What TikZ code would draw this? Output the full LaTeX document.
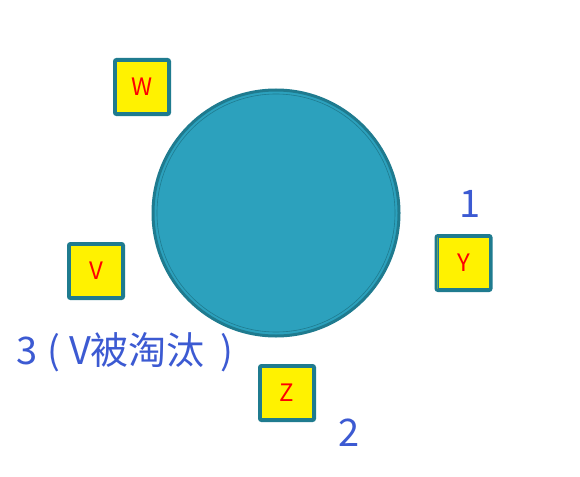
\documentclass[tikz,border=0pt]{standalone}
\usepackage{fontspec}
\newfontfamily\cjk{Noto Sans CJK SC}
\definecolor{ballfill}{RGB}{44,161,189}
\definecolor{ballline}{RGB}{31,123,143}
\definecolor{labelblue}{RGB}{60,90,210}
\tikzset{
  ball/.style={
    circle,
    draw=ballline,
    line width=3pt,
    fill=ballfill,
    minimum size=246pt
  },
  slot/.style={
    rectangle,
    rounded corners=2pt,
    draw=ballline,
    line width=3pt,
    fill=yellow,
    minimum size=55pt,
    text=red,
    font=\cjk\fontsize{24}{26}\selectfont
  },
  rank/.style={
    text=labelblue,
    inner sep=0pt,
    font=\cjk\fontsize{38}{42}\selectfont
  }
}

\begin{document}
\begin{tikzpicture}[x=1pt,y=1pt]
  \useasboundingbox (0,0) rectangle (580,-476);

  % the ball
  \node[ball] (ball) at (276,-213) {};
  \draw[ballline, line width=0.6pt] (ball.center) circle (119pt);

  % the four boxes
  \node[slot] (w) at (142,-87) {W};
  \node[slot] (y) at (463.5,-263) {Y};
  \node[slot] (v) at (96,-271) {V};
  \node[slot] (z) at (287,-393) {Z};

  % inner rules of the boxes
  \foreach \b in {w,y,v,z}
    \draw[ballline, line width=0.6pt]
      ([shift={(3.6pt,-3.6pt)}]\b.north west) rectangle ([shift={(-3.6pt,3.6pt)}]\b.south east);

  % the labels
  \node[rank, anchor=base] (one) at (470,-217) {1};
  \node[rank, anchor=base] (two) at (349,-446) {2};
  \node[rank, anchor=base west] (three) at (16,-364)
    {3\kern10pt(\kern9pt V被淘汰\kern16pt)};
\end{tikzpicture}
\end{document}
